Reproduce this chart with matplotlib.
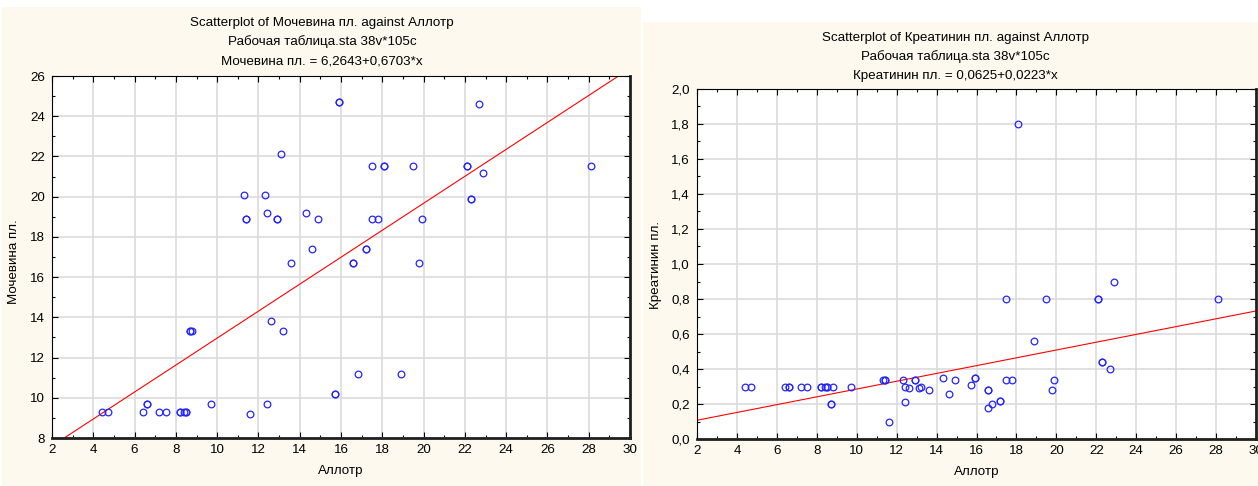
import matplotlib.pyplot as plt
import numpy as np
from matplotlib.patches import Rectangle
from matplotlib.ticker import MultipleLocator, FuncFormatter

plt.rcParams['font.family'] = ['Liberation Sans', 'DejaVu Sans']

# Аллотр vs Мочевина пл. (repeated values = overlapping points)
allotr_u = [4.4, 4.7, 6.4, 6.6, 6.6, 7.2, 7.5, 8.2, 8.2, 8.4, 8.5, 8.5, 8.7, 8.7, 8.8, 9.7,
            11.3, 11.4, 11.4, 11.6, 12.3, 12.4, 12.4, 12.6, 12.9, 12.9, 13.1, 13.2, 13.6,
            14.3, 14.6, 14.9, 15.7, 15.7, 15.9, 15.9, 16.6, 16.6, 16.8, 17.2, 17.2, 17.5,
            17.5, 17.8, 18.1, 18.1, 18.9, 19.5, 19.8, 19.9, 22.1, 22.1, 22.3, 22.3, 22.7,
            22.9, 28.1]
urea = [9.3, 9.3, 9.3, 9.7, 9.7, 9.3, 9.3, 9.3, 9.3, 9.3, 9.3, 9.3, 13.3, 13.3, 13.3, 9.7,
        20.1, 18.9, 18.9, 9.2, 20.1, 19.2, 9.7, 13.8, 18.9, 18.9, 22.1, 13.3, 16.7,
        19.2, 17.4, 18.9, 10.2, 10.2, 24.7, 24.7, 16.7, 16.7, 11.2, 17.4, 17.4, 21.5,
        18.9, 18.9, 21.5, 21.5, 11.2, 21.5, 16.7, 18.9, 21.5, 21.5, 19.9, 19.9, 24.6,
        21.2, 21.5]

# Аллотр vs Креатинин пл.
allotr_c = [4.4, 4.7, 6.4, 6.6, 6.6, 7.2, 7.5, 8.2, 8.2, 8.4, 8.5, 8.5, 8.7, 8.7, 8.8, 9.7,
            11.3, 11.4, 11.4, 11.6, 12.3, 12.4, 12.4, 12.6, 12.9, 12.9, 13.1, 13.2, 13.6,
            14.3, 14.6, 14.9, 15.7, 15.9, 15.9, 16.6, 16.6, 16.6, 16.8, 17.2, 17.2, 17.5,
            17.5, 17.8, 18.1, 18.9, 19.5, 19.8, 19.9, 22.1, 22.1, 22.3, 22.3, 22.7, 22.9,
            28.1]
creat = [0.3, 0.3, 0.3, 0.3, 0.3, 0.3, 0.3, 0.3, 0.3, 0.3, 0.3, 0.3, 0.2, 0.2, 0.3, 0.3,
         0.34, 0.34, 0.34, 0.1, 0.34, 0.3, 0.21, 0.29, 0.34, 0.34, 0.29, 0.3, 0.28,
         0.35, 0.26, 0.34, 0.31, 0.35, 0.35, 0.28, 0.28, 0.18, 0.2, 0.22, 0.22, 0.8,
         0.34, 0.34, 1.8, 0.56, 0.8, 0.28, 0.34, 0.8, 0.8, 0.44, 0.44, 0.4, 0.9, 0.8]

# regression coefficients as printed in the titles
urea_fit = (6.2643, 0.6703)
creat_fit = (0.0625, 0.0223)

W, H = 1258, 486
bg = '#fdf9ee'
blue = '#2424ff'
fs = 9.6

fig = plt.figure(figsize=(W / 100, H / 100), dpi=100)
fig.patch.set_facecolor('white')

# beige panels, like two Statistica windows side by side
fig.add_artist(Rectangle((2 / W, 0), 639 / W, 1 - 7 / H, transform=fig.transFigure,
                         facecolor=bg, edgecolor='none', zorder=-10))
fig.add_artist(Rectangle((643 / W, 0), 615 / W, 1 - 22 / H, transform=fig.transFigure,
                         facecolor=bg, edgecolor='none', zorder=-10))


def comma(v, pos):
    return ('%.1f' % v).replace('.', ',')


def setup(ax, ymin, ymax, ymajor, yminor):
    ax.set_xlim(2, 30)
    ax.set_ylim(ymin, ymax)
    ax.xaxis.set_major_locator(MultipleLocator(2))
    ax.xaxis.set_minor_locator(MultipleLocator(1))
    ax.yaxis.set_major_locator(MultipleLocator(ymajor))
    ax.yaxis.set_minor_locator(MultipleLocator(yminor))
    ax.grid(True, which='major', color='#dcdcdc', linewidth=1.2)
    ax.set_axisbelow(True)
    ax.tick_params(which='both', direction='in', top=True, right=True, labelsize=fs, colors='black')
    ax.tick_params(which='major', length=4, width=0.8)
    ax.tick_params(which='minor', length=2.5, width=0.8)
    ax.tick_params(axis='y', pad=5)
    ax.tick_params(axis='x', pad=4.5)
    for s in ['left', 'top']:
        ax.spines[s].set_linewidth(0.8)
    for s in ['right', 'bottom']:
        ax.spines[s].set_linewidth(2.0)
        ax.spines[s].set_color('#202020')


# left chart
ax1 = fig.add_axes([52 / W, 1 - 438 / H, 578 / W, 362 / H])
setup(ax1, 8, 26, 2, 1)
xl = np.array([2, 30])
ax1.plot(xl, urea_fit[0] + urea_fit[1] * xl, color='red', linewidth=0.8, zorder=2)
ax1.plot(allotr_u, urea, 'o', mfc='none', mec=blue, ms=4.8, mew=0.9, zorder=3)
ax1.set_xlabel('Аллотр', fontsize=fs, labelpad=6)
fig.text(14 / W, 1 - 262 / H, 'Мочевина пл.', rotation=90, ha='center', va='center', fontsize=fs)
fig.text(322 / W, 1 - 23 / H, 'Scatterplot of Мочевина пл. against Аллотр', ha='center', va='center', fontsize=fs)
fig.text(322 / W, 1 - 42 / H, 'Рабочая таблица.sta 38v*105c', ha='center', va='center', fontsize=fs)
fig.text(322 / W, 1 - 61 / H, 'Мочевина пл. = 6,2643+0,6703*x', ha='center', va='center', fontsize=fs)

# right chart
ax2 = fig.add_axes([697 / W, 1 - 439 / H, 559 / W, 350 / H])
setup(ax2, 0, 2.0, 0.2, 0.1)
ax2.yaxis.set_major_formatter(FuncFormatter(comma))
ax2.plot(xl, creat_fit[0] + creat_fit[1] * xl, color='red', linewidth=0.8, zorder=2)
ax2.plot(allotr_c, creat, 'o', mfc='none', mec=blue, ms=4.8, mew=0.9, zorder=3)
ax2.set_xlabel('Аллотр', fontsize=fs, labelpad=6)
fig.text(656 / W, 1 - 265 / H, 'Креатинин пл.', rotation=90, ha='center', va='center', fontsize=fs)
fig.text(955 / W, 1 - 38 / H, 'Scatterplot of Креатинин пл. against Аллотр', ha='center', va='center', fontsize=fs)
fig.text(955 / W, 1 - 57 / H, 'Рабочая таблица.sta 38v*105c', ha='center', va='center', fontsize=fs)
fig.text(955 / W, 1 - 76 / H, 'Креатинин пл. = 0,0625+0,0223*x', ha='center', va='center', fontsize=fs)

fig.savefig('out.png', dpi=100, facecolor=fig.get_facecolor())
